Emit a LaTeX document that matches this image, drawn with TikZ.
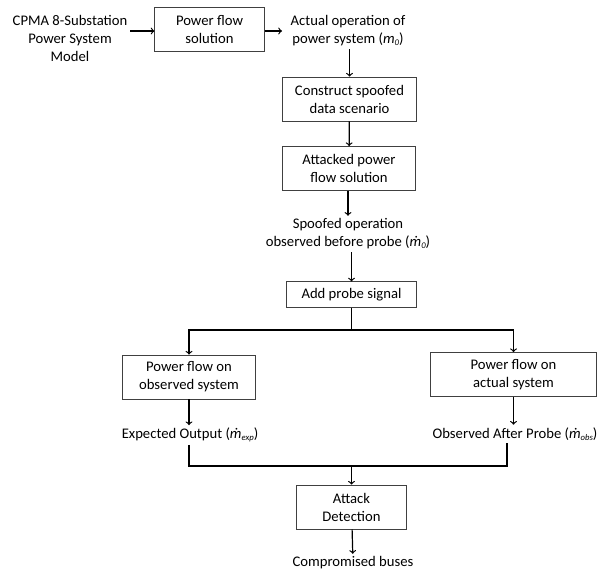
\documentclass[tikz,border=0pt]{standalone}
\usepackage{fontspec}
\setmainfont{Carlito}
\usetikzlibrary{positioning}
\newcommand{\mdot}{\textit{\accent"02D9 m}}
\newcommand{\subs}[1]{\raisebox{-0.25ex}{\fontsize{6.5}{7}\selectfont\textit{#1}}}

\begin{document}
\begin{tikzpicture}[x=0.75pt, y=-0.75pt,
  every node/.style={font=\fontsize{11}{13.5}\selectfont, align=center, inner sep=2pt},
  blk/.style={draw=black!75, line width=0.6pt, minimum height=33pt},
  flow/.style={->, line width=0.9pt}]
\useasboundingbox (0,0) rectangle (610,572);

\node (cpma) at (70,38) {CPMA 8-Substation\\Power System\\Model};
\node[blk, minimum width=82pt] (pf) at (209.5,29.5) {Power flow\\solution};
\node (actual) at (348,31) {Actual operation of\\power system (\textit{m}\subs{0})};
\node[blk, minimum width=100pt] (spoof) at (349.5,99) {Construct spoofed\\data scenario};
\node[blk, minimum width=100pt] (attack) at (349,168.5) {Attacked power\\flow solution};
\node (before) at (348,234) {Spoofed operation\\observed before probe (\mdot\subs{0})};
\node[blk, minimum width=98pt, minimum height=19pt] (probe) at (351.5,294.5) {Add probe signal};
\node[blk, minimum width=100pt] (obssys) at (189,377) {Power flow on\\observed system};
\node[blk, minimum width=125pt] (actsys) at (513.5,374.5) {Power flow on\\actual system};
\node (expect) at (190,435) {Expected Output (\mdot\subs{exp})};
\node (after) at (515,434) {Observed After Probe (\mdot\subs{obs})};
\node[blk, minimum width=82pt] (detect) at (351.5,507) {Attack\\Detection};
\node (buses) at (353,563) {Compromised buses};

\coordinate (split) at (351.5,330);
\coordinate (join) at (351.5,466);

\draw[flow] (cpma.east |- 0,31) -- (pf.west |- 0,31);
\draw[flow] (pf.east |- 0,31) -- (282,31);
\draw[flow] (actual.south -| spoof.north) -- (spoof);
\draw[flow] (spoof) -- (attack);
\draw[flow] (attack.south -| before.north) -- (before);
\draw[flow] (before.south -| probe.north) -- (probe);
\draw[line width=0.9pt] (probe.south) -- (split);
\draw[flow] (split) -| (obssys.north);
\draw[flow] (split) -| (actsys.north);
\draw[flow] (obssys) -- (obssys.south |- expect.north);
\draw[flow] (actsys) -- (actsys.south |- after.north);
\draw[line width=0.9pt] (obssys.south |- expect.south) |- (join) -| (after.south -| 507,0);
\draw[flow] (join) -- (detect);
\draw[flow] (detect) -- (buses);
\end{tikzpicture}
\end{document}
